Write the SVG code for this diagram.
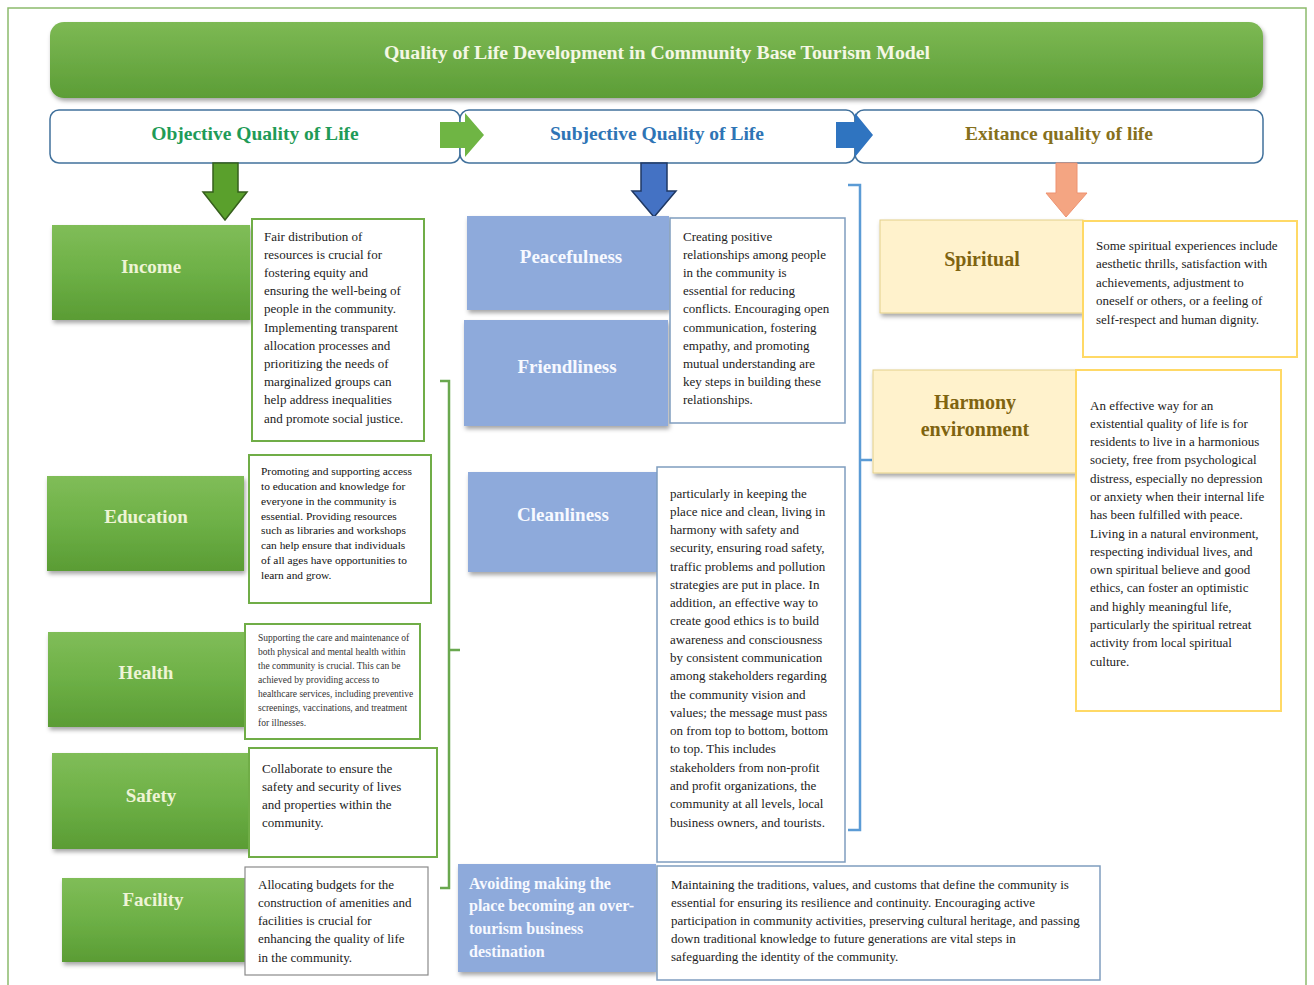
<svg xmlns="http://www.w3.org/2000/svg" width="1314" height="985" viewBox="0 0 1314 985">
<defs>
<linearGradient id="gGreen" x1="0" y1="0" x2="0" y2="1">
<stop offset="0" stop-color="#80bd58"/>
<stop offset="0.5" stop-color="#6db046"/>
<stop offset="1" stop-color="#5a9c34"/>
</linearGradient>
<linearGradient id="gTitle" x1="0" y1="0" x2="0" y2="1">
<stop offset="0" stop-color="#7db954"/>
<stop offset="1" stop-color="#5c9d36"/>
</linearGradient>
<filter id="sh" x="-10%" y="-10%" width="125%" height="130%">
<feDropShadow dx="1.5" dy="3" stdDeviation="2" flood-color="#000" flood-opacity="0.35"/>
</filter>
</defs>
<style>
.serif{font-family:"Liberation Serif","Times New Roman",serif;}
.body{font-family:"Liberation Serif","Times New Roman",serif;font-size:13px;fill:#222;}
.gbox{fill:url(#gGreen);filter:url(#sh);}
.bbox{fill:#8eaadb;filter:url(#sh);}
.ybox{fill:#fff2cc;stroke:#e3d08a;stroke-width:1;filter:url(#sh);}
.glab{font-family:"Liberation Serif","Times New Roman",serif;font-size:19px;font-weight:bold;fill:#eef4d6;text-anchor:middle;}
.blab{font-family:"Liberation Serif","Times New Roman",serif;font-size:19px;font-weight:bold;fill:#f7f9ff;text-anchor:middle;}
.ylab{font-family:"Liberation Serif","Times New Roman",serif;font-size:20px;font-weight:bold;fill:#7f6410;text-anchor:middle;}
.gtxt{fill:#fff;stroke:#70ad47;stroke-width:2;}
.btxt{fill:#fff;stroke:#7f9dbf;stroke-width:1.5;}
.ytxt{fill:#fff;stroke:#ffd966;stroke-width:2;}
.head{fill:#fff;stroke:#41719c;stroke-width:1.5;}
.htxt{font-family:"Liberation Serif","Times New Roman",serif;font-size:19.5px;font-weight:bold;text-anchor:middle;}
</style>
<rect x="8" y="8" width="1298" height="990" fill="#fff" stroke="#8cbb6c" stroke-width="1.5"/>

<g id="title">
<rect x="50" y="22" width="1213" height="76" rx="14" fill="url(#gTitle)" filter="url(#sh)"/>
<text x="657" y="59" class="serif" font-size="19.8" font-weight="bold" fill="#f4f7e4" text-anchor="middle">Quality of Life Development in Community Base Tourism Model</text>
</g>

<g id="head-objective">
<rect x="50" y="110" width="410" height="53" rx="9" class="head"/>
<text x="255" y="140" class="htxt" fill="#1f9b57">Objective Quality of Life</text>
</g>
<g id="head-subjective">
<rect x="460" y="110" width="395" height="53" rx="9" class="head"/>
<text x="657" y="140" class="htxt" fill="#2e74b5">Subjective Quality of Life</text>
</g>
<g id="head-existance">
<rect x="855" y="110" width="408" height="53" rx="9" class="head"/>
<text x="1059" y="140" class="htxt" fill="#86701c">Exitance quality of life</text>
</g>

<g id="connectors">
<path d="M440,122 H465 V113 L484,135 L465,157 V148 H440 Z" fill="#6fb544"/>
<path d="M836,122 H855 V113 L873,135 L855,157 V148 H836 Z" fill="#2f74c0"/>
<path d="M213,163 H238 V192 H247 L225,220 L203,192 H213 Z" fill="#5aa02c" stroke="#365f1c" stroke-width="1.5"/>
<path d="M641,163 H667 V191 H676 L654,217 L632,191 H641 Z" fill="#4472c4" stroke="#1f3864" stroke-width="1.5"/>
<path d="M1056,163 H1077 V193 H1087 L1066,217 L1046,193 H1056 Z" fill="#f4a582" stroke="#ee9270" stroke-width="1"/>
<path d="M440,381 H449 V888 H440 M449,650 H460" fill="none" stroke="#6aa84f" stroke-width="2.5"/>
<path d="M848,185 H860 V830 H848 M860,460 H872" fill="none" stroke="#5b9bd5" stroke-width="2.5"/>
</g>

<g id="income">
<rect x="52" y="225" width="198" height="95" class="gbox"/>
<text x="151" y="273" class="glab">Income</text>
<rect x="252" y="219" width="172" height="222" class="gtxt"/>
<text class="body" x="264" y="240.5"><tspan x="264">Fair distribution of</tspan><tspan x="264" dy="18.2">resources is crucial for</tspan><tspan x="264" dy="18.2">fostering equity and</tspan><tspan x="264" dy="18.2">ensuring the well-being of</tspan><tspan x="264" dy="18.2">people in the community.</tspan><tspan x="264" dy="18.2">Implementing transparent</tspan><tspan x="264" dy="18.2">allocation processes and</tspan><tspan x="264" dy="18.2">prioritizing the needs of</tspan><tspan x="264" dy="18.2">marginalized groups can</tspan><tspan x="264" dy="18.2">help address inequalities</tspan><tspan x="264" dy="18.2">and promote social justice.</tspan></text>
</g>

<g id="education">
<rect x="47" y="476" width="197" height="95" class="gbox"/>
<text x="146" y="523" class="glab">Education</text>
<rect x="249" y="455" width="182" height="148" class="gtxt"/>
<text class="body" x="261" y="475" style="font-size:11.4px;fill:#111"><tspan x="261">Promoting and supporting access</tspan><tspan x="261" dy="14.86">to education and knowledge for</tspan><tspan x="261" dy="14.86">everyone in the community is</tspan><tspan x="261" dy="14.86">essential. Providing resources</tspan><tspan x="261" dy="14.86">such as libraries and workshops</tspan><tspan x="261" dy="14.86">can help ensure that individuals</tspan><tspan x="261" dy="14.86">of all ages have opportunities to</tspan><tspan x="261" dy="14.86">learn and grow.</tspan></text>
</g>

<g id="health">
<rect x="48" y="632" width="197" height="95" class="gbox"/>
<text x="146" y="679" class="glab">Health</text>
<rect x="245" y="624" width="175" height="115" class="gtxt"/>
<text class="body" x="258" y="641" style="font-size:9.5px;fill:#333"><tspan x="258">Supporting the care and maintenance of</tspan><tspan x="258" dy="14">both physical and mental health within</tspan><tspan x="258" dy="14">the community is crucial. This can be</tspan><tspan x="258" dy="14">achieved by providing access to</tspan><tspan x="258" dy="14">healthcare services, including preventive</tspan><tspan x="258" dy="14">screenings, vaccinations, and treatment</tspan><tspan x="258" dy="15">for illnesses.</tspan></text>
</g>

<g id="safety">
<rect x="52" y="753" width="198" height="96" class="gbox"/>
<text x="151" y="802" class="glab">Safety</text>
<rect x="249" y="748" width="188" height="109" class="gtxt"/>
<text class="body" x="262" y="772.5"><tspan x="262">Collaborate to ensure the</tspan><tspan x="262" dy="18.3">safety and security of lives</tspan><tspan x="262" dy="18.3">and properties within the</tspan><tspan x="262" dy="18.3">community.</tspan></text>
</g>

<g id="facility">
<rect x="62" y="878" width="185" height="84" class="gbox"/>
<text x="153" y="906" class="glab">Facility</text>
<rect x="245" y="867" width="183" height="108" fill="#fff" stroke="#8a8a8a" stroke-width="1.2"/>
<text class="body" x="258" y="888.5"><tspan x="258">Allocating budgets for the</tspan><tspan x="258" dy="18.3">construction of amenities and</tspan><tspan x="258" dy="18.3">facilities is crucial for</tspan><tspan x="258" dy="18.3">enhancing the quality of life</tspan><tspan x="258" dy="18.3">in the community.</tspan></text>
</g>

<g id="peacefulness">
<rect x="467" y="216" width="202" height="94" class="bbox"/>
<text x="571" y="263" class="blab">Peacefulness</text>
</g>
<g id="friendliness">
<rect x="464" y="320" width="204" height="106" class="bbox"/>
<text x="567" y="373" class="blab">Friendliness</text>
</g>
<g id="relationships-text">
<rect x="670" y="218" width="175" height="205" class="btxt"/>
<text class="body" x="683" y="240.5"><tspan x="683">Creating positive</tspan><tspan x="683" dy="18.2">relationships among people</tspan><tspan x="683" dy="18.2">in the community is</tspan><tspan x="683" dy="18.2">essential for reducing</tspan><tspan x="683" dy="18.2">conflicts. Encouraging open</tspan><tspan x="683" dy="18.2">communication, fostering</tspan><tspan x="683" dy="18.2">empathy, and promoting</tspan><tspan x="683" dy="18.2">mutual understanding are</tspan><tspan x="683" dy="18.2">key steps in building these</tspan><tspan x="683" dy="18.2">relationships.</tspan></text>
</g>

<g id="cleanliness">
<rect x="468" y="472" width="189" height="100" class="bbox"/>
<text x="563" y="521" class="blab">Cleanliness</text>
<rect x="657" y="467" width="188" height="395" class="btxt"/>
<text class="body" x="670" y="497.5"><tspan x="670">particularly in keeping the</tspan><tspan x="670" dy="18.28">place nice and clean, living in</tspan><tspan x="670" dy="18.28">harmony with safety and</tspan><tspan x="670" dy="18.28">security, ensuring road safety,</tspan><tspan x="670" dy="18.28">traffic problems and pollution</tspan><tspan x="670" dy="18.28">strategies are put in place. In</tspan><tspan x="670" dy="18.28">addition, an effective way to</tspan><tspan x="670" dy="18.28">create good ethics is to build</tspan><tspan x="670" dy="18.28">awareness and consciousness</tspan><tspan x="670" dy="18.28">by consistent communication</tspan><tspan x="670" dy="18.28">among stakeholders regarding</tspan><tspan x="670" dy="18.28">the community vision and</tspan><tspan x="670" dy="18.28">values; the message must pass</tspan><tspan x="670" dy="18.28">on from top to bottom, bottom</tspan><tspan x="670" dy="18.28">to top. This includes</tspan><tspan x="670" dy="18.28">stakeholders from non-profit</tspan><tspan x="670" dy="18.28">and profit organizations, the</tspan><tspan x="670" dy="18.28">community at all levels, local</tspan><tspan x="670" dy="18.28">business owners, and tourists.</tspan></text>
</g>

<g id="overtourism">
<rect x="458" y="864" width="198" height="108" class="bbox"/>
<text class="serif" x="469" y="888.5" font-size="16" font-weight="bold" fill="#f7f9ff"><tspan x="469">Avoiding making the</tspan><tspan x="469" dy="22.7">place becoming an over-</tspan><tspan x="469" dy="22.7">tourism business</tspan><tspan x="469" dy="22.7">destination</tspan></text>
<rect x="657" y="866" width="443" height="114" class="btxt"/>
<text class="body" x="671" y="888.5" style="font-size:13px"><tspan x="671">Maintaining the traditions, values, and customs that define the community is</tspan><tspan x="671" dy="18">essential for ensuring its resilience and continuity. Encouraging active</tspan><tspan x="671" dy="18">participation in community activities, preserving cultural heritage, and passing</tspan><tspan x="671" dy="18">down traditional knowledge to future generations are vital steps in</tspan><tspan x="671" dy="18">safeguarding the identity of the community.</tspan></text>
</g>

<g id="spiritual">
<rect x="880" y="220" width="203" height="93" class="ybox"/>
<text x="982" y="266" class="ylab">Spiritual</text>
<rect x="1083" y="221" width="214" height="136" class="ytxt"/>
<text class="body" x="1096" y="249.5"><tspan x="1096">Some spiritual experiences include</tspan><tspan x="1096" dy="18.5">aesthetic thrills, satisfaction with</tspan><tspan x="1096" dy="18.5">achievements, adjustment to</tspan><tspan x="1096" dy="18.5">oneself or others, or a feeling of</tspan><tspan x="1096" dy="18.5">self-respect and human dignity.</tspan></text>
</g>

<g id="harmony">
<rect x="873" y="370" width="204" height="103" class="ybox"/>
<text x="975" y="409" class="ylab"><tspan x="975">Harmony</tspan><tspan x="975" dy="27">environment</tspan></text>
<rect x="1076" y="370" width="205" height="341" class="ytxt"/>
<text class="body" x="1090" y="409.5"><tspan x="1090">An effective way for an</tspan><tspan x="1090" dy="18.29">existential quality of life is for</tspan><tspan x="1090" dy="18.29">residents to live in a harmonious</tspan><tspan x="1090" dy="18.29">society, free from psychological</tspan><tspan x="1090" dy="18.29">distress, especially no depression</tspan><tspan x="1090" dy="18.29">or anxiety when their internal life</tspan><tspan x="1090" dy="18.29">has been fulfilled with peace.</tspan><tspan x="1090" dy="18.29">Living in a natural environment,</tspan><tspan x="1090" dy="18.29">respecting individual lives, and</tspan><tspan x="1090" dy="18.29">own spiritual believe and good</tspan><tspan x="1090" dy="18.29">ethics, can foster an optimistic</tspan><tspan x="1090" dy="18.29">and highly meaningful life,</tspan><tspan x="1090" dy="18.29">particularly the spiritual retreat</tspan><tspan x="1090" dy="18.29">activity from local spiritual</tspan><tspan x="1090" dy="18.29">culture.</tspan></text>
</g>
</svg>
